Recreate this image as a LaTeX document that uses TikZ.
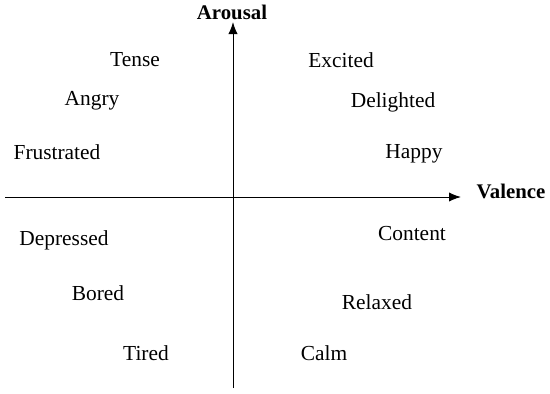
\documentclass[tikz,border=0pt]{standalone}
\usepackage{fontspec}
\setmainfont{Liberation Serif}
\usepackage{tikz}
\usetikzlibrary{arrows.meta}
\definecolor{ink}{HTML}{000000}

\begin{document}
\begin{tikzpicture}[x=0.5pt, y=-0.5pt,
  mood/.style={text=ink, inner sep=0pt, font=\fontsize{10.7}{12}\selectfont},
  axislabel/.style={text=ink, inner sep=0pt, font=\fontsize{10.4}{12}\selectfont\bfseries},
  axis/.style={-{Latex[length=6pt,width=4.6pt]}, ink, line width=0.5pt}
]
\useasboundingbox (0,0) rectangle (550,393);
% axes
\coordinate (vleft) at (5,197);
\coordinate (vright) at (461,197);
\coordinate (abottom) at (233,388);
\coordinate (atop) at (233,22);
\draw[axis] (vleft) -- (vright);
\draw[axis] (abottom) -- (atop);
\node[axislabel] (arousal) at (232,12) {Arousal};
\node[axislabel] (valence) at (511,191) {Valence};
% quadrants
\node[mood] (tense) at (135,60) {Tense};
\node[mood] (angry) at (92,101) {Angry};
\node[mood] (frustrated) at (57,152) {Frustrated};
\node[mood] (excited) at (341,60) {Excited};
\node[mood] (delighted) at (393,102) {Delighted};
\node[mood] (happy) at (414,154) {Happy};
\node[mood] (depressed) at (64,240) {Depressed};
\node[mood] (bored) at (98,293) {Bored};
\node[mood] (tired) at (146,353) {Tired};
\node[mood] (content) at (412,234) {Content};
\node[mood] (relaxed) at (377,302) {Relaxed};
\node[mood] (calm) at (324,353) {Calm};
\end{tikzpicture}
\end{document}
